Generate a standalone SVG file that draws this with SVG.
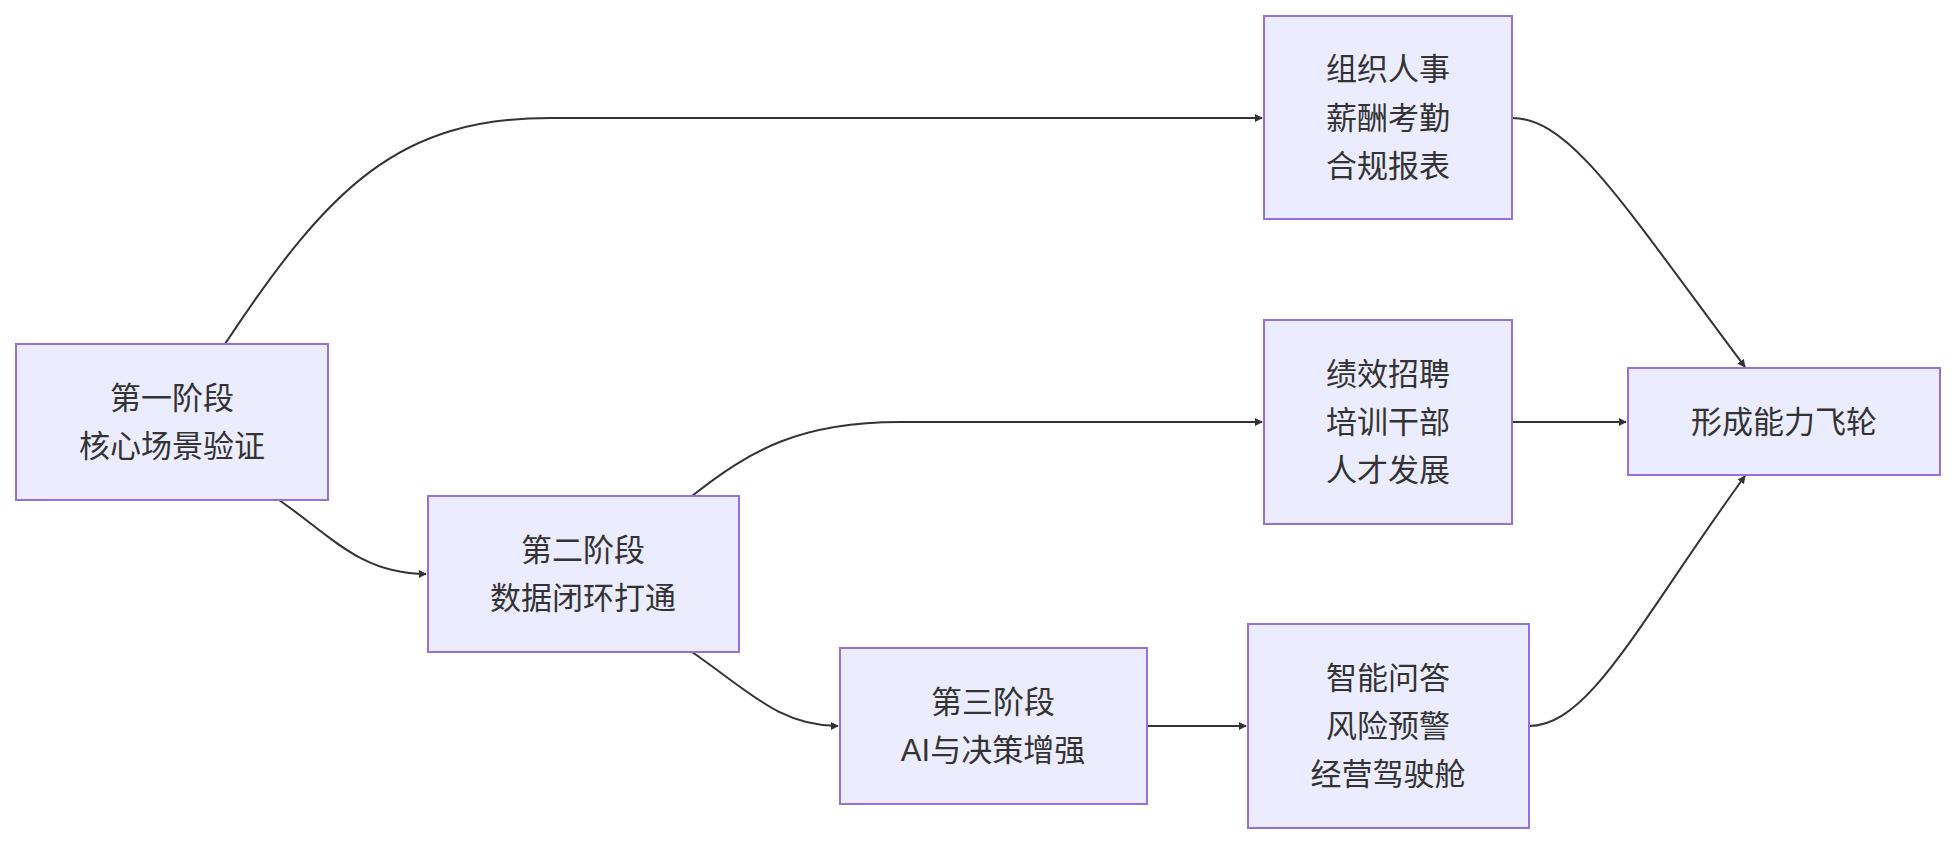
<svg xmlns="http://www.w3.org/2000/svg" width="1955" height="844" viewBox="0 0 1955 844">
<style>
.n rect{fill:#ECECFF;stroke:#9370DB;stroke-width:2}
.n text{font-family:"Liberation Sans","Noto Sans CJK SC",sans-serif;font-size:31px;fill:#333;text-anchor:middle;dominant-baseline:central}
.e path{fill:none;stroke:#333;stroke-width:2;marker-end:url(#a)}
</style>
<defs><marker id="a" viewBox="0 0 10 10" refX="9" refY="5" markerWidth="8" markerHeight="8" markerUnits="userSpaceOnUse" orient="auto"><path d="M0,0L10,5L0,10z" fill="#333"/></marker></defs>
<rect width="1955" height="844" fill="#fff"/>
<g class="e">
<path d="M225,344C330,185 400,118 550,118L1262,118"/>
<path d="M279,500C330,535 360,574 426,574"/>
<path d="M692,496C750,450 800,422 900,422L1262,422"/>
<path d="M692,652C750,692 780,726 838,726"/>
<path d="M1147,726L1246,726"/>
<path d="M1512,118C1570,118 1620,200 1745,367"/>
<path d="M1512,422L1626,422"/>
<path d="M1529,726C1590,726 1640,620 1745,476"/>
</g>
<g id="n1" class="n"><rect x="16" y="344" width="312" height="156"/><text x="172" y="398">第一阶段</text><text x="172" y="446">核心场景验证</text></g>
<g id="n2" class="n"><rect x="428" y="496" width="311" height="156"/><text x="583" y="550">第二阶段</text><text x="583" y="598">数据闭环打通</text></g>
<g id="n3" class="n"><rect x="840" y="648" width="307" height="156"/><text x="993" y="702">第三阶段</text><text x="993" y="750">AI与决策增强</text></g>
<g id="na" class="n"><rect x="1264" y="16" width="248" height="203"/><text x="1388" y="69">组织人事</text><text x="1388" y="118">薪酬考勤</text><text x="1388" y="166">合规报表</text></g>
<g id="nb" class="n"><rect x="1264" y="320" width="248" height="204"/><text x="1388" y="374">绩效招聘</text><text x="1388" y="422">培训干部</text><text x="1388" y="470">人才发展</text></g>
<g id="nc" class="n"><rect x="1248" y="624" width="281" height="204"/><text x="1388" y="678">智能问答</text><text x="1388" y="726">风险预警</text><text x="1388" y="774">经营驾驶舱</text></g>
<g id="nf" class="n"><rect x="1628" y="368" width="312" height="107"/><text x="1784" y="422">形成能力飞轮</text></g>
</svg>
